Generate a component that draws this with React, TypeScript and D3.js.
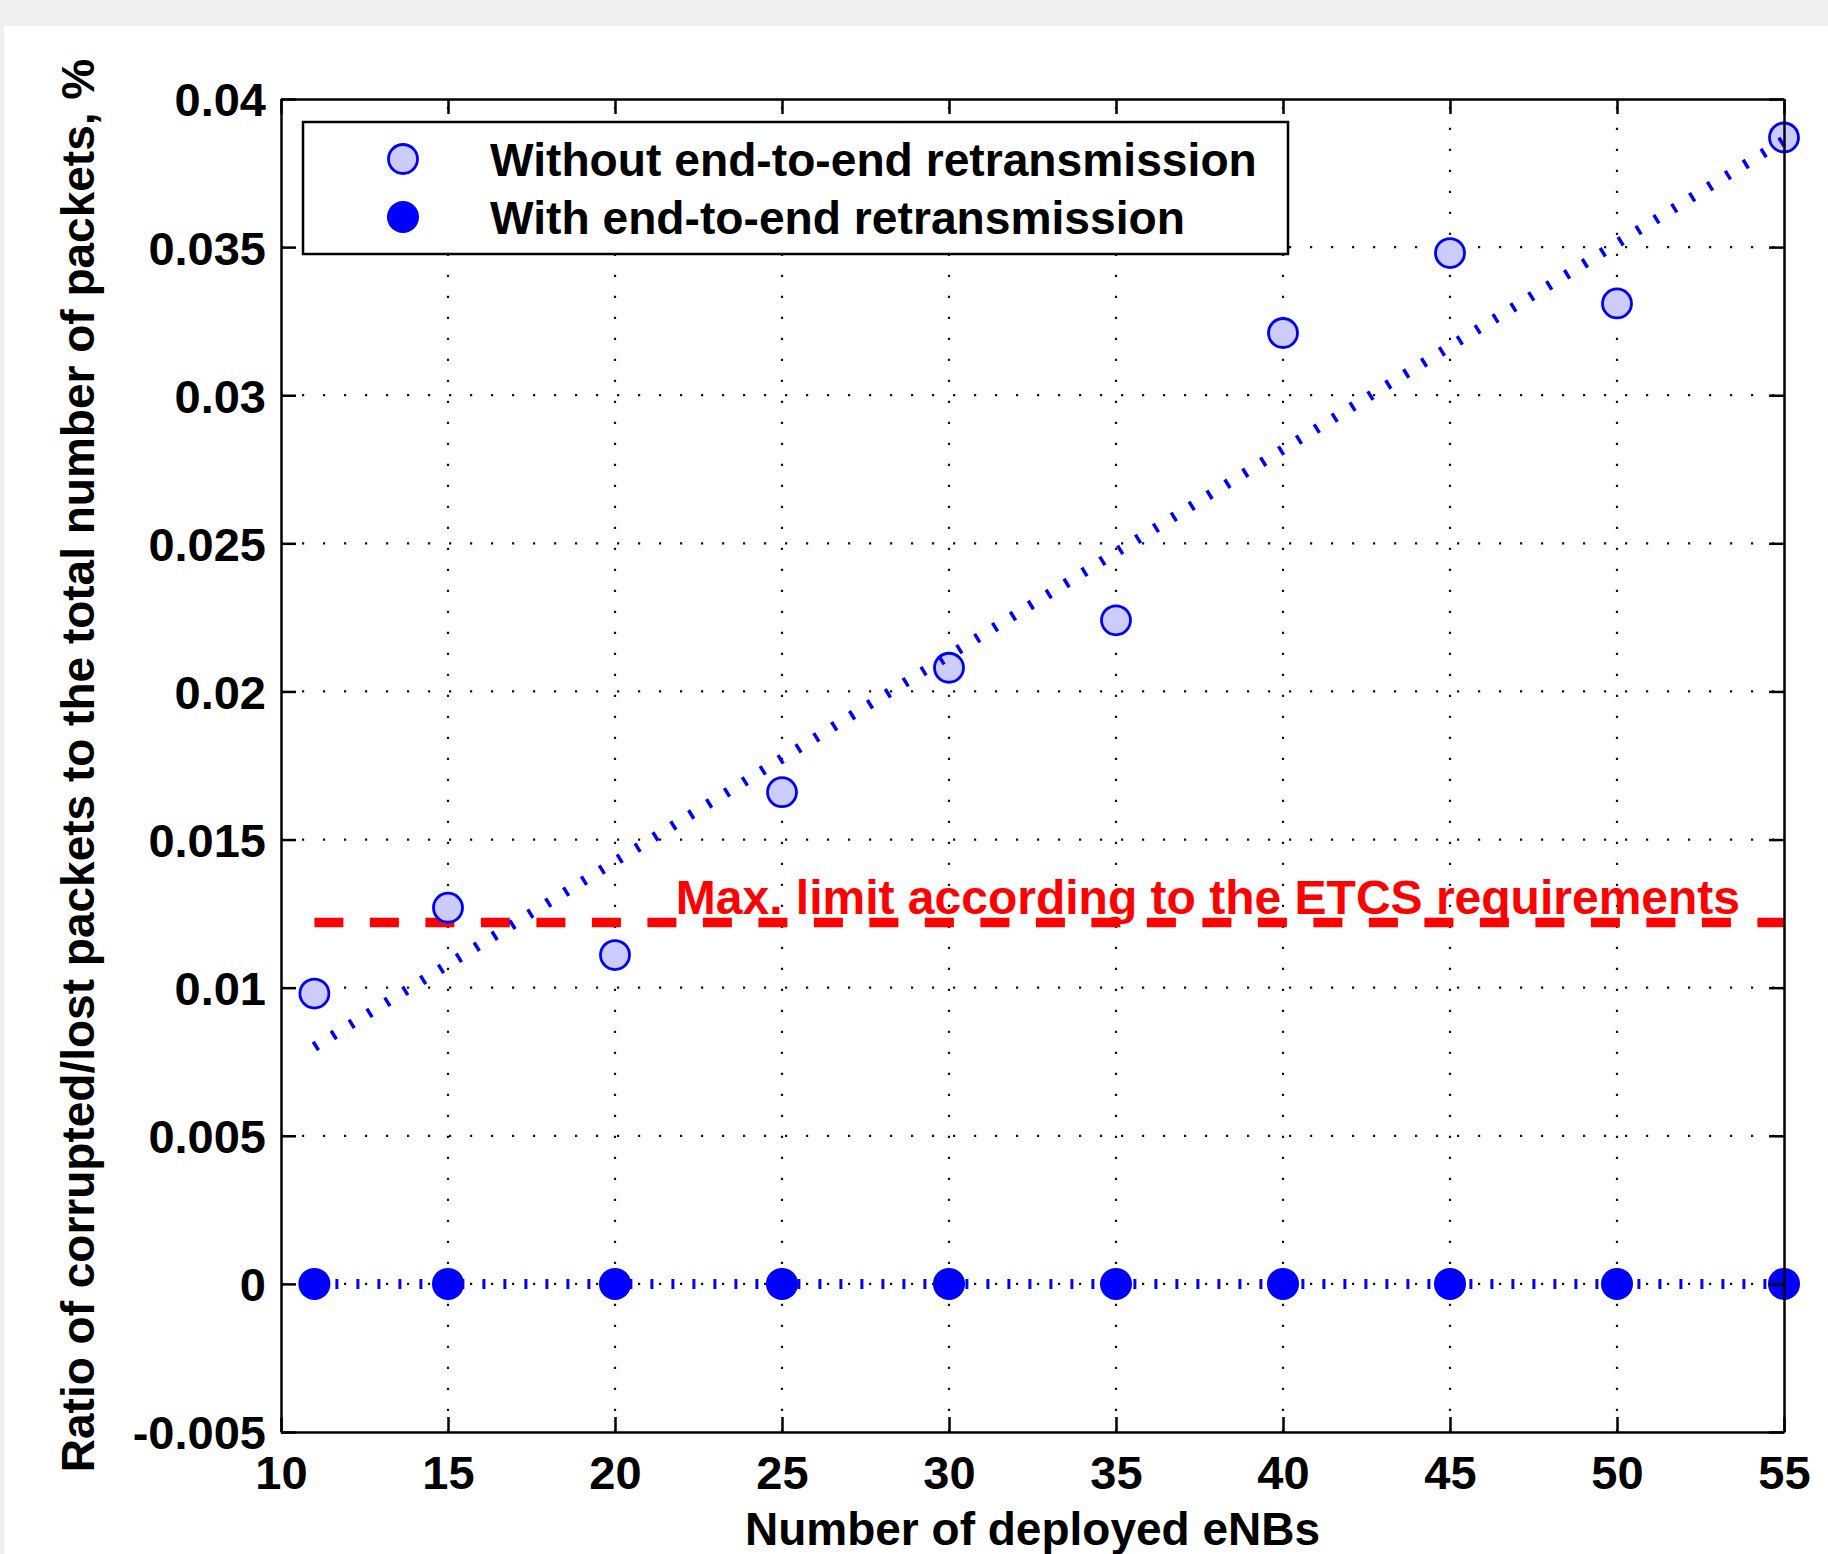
import { useRef, useEffect } from "react";
import * as d3 from "d3";

const ENB_COUNTS = [11, 15, 20, 25, 30, 35, 40, 45, 50, 55];
const RATIO_WITHOUT = [0.0098, 0.0127, 0.0111, 0.0166, 0.0208, 0.0224, 0.0321, 0.0348, 0.0331, 0.0387];
const RATIO_WITH = [0, 0, 0, 0, 0, 0, 0, 0, 0, 0];
// linear fit of the "without" series, as drawn in the figure
const TREND_X = [11, 55];
const TREND_Y = [0.008, 0.0386];
const ETCS_LIMIT = 0.0122;
const LIMIT_LABEL = "Max. limit according to the ETCS requirements";

const X_TICKS = [10, 15, 20, 25, 30, 35, 40, 45, 50, 55];
const Y_TICKS = [-0.005, 0, 0.005, 0.01, 0.015, 0.02, 0.025, 0.03, 0.035, 0.04];
const Y_TICK_LABELS = ["-0.005", "0", "0.005", "0.01", "0.015", "0.02", "0.025", "0.03", "0.035", "0.04"];
const SERIES_LABELS = ["Without end-to-end retransmission", "With end-to-end retransmission"];

const X_TITLE = "Number of deployed eNBs";
const Y_TITLE = "Ratio of corrupted/lost packets to the total number of packets, %";

const W = 1828;
const H = 1554;
const FONT = "'Liberation Sans', Arial, Helvetica, sans-serif";
const BLUE = "#0000ff";
const LIGHT = "#ccccff";
const RED = "#ff0000";

export default function App() {
  const svgRef = useRef<SVGSVGElement>(null);

  useEffect(() => {
    if (!svgRef.current) return;
    const svg = d3.select(svgRef.current);
    svg.selectAll("*").remove();

    const left = 281, right = 1784, top = 99, bottom = 1432;

    const x = d3.scaleLinear().domain([10, 55]).range([left, right]);
    const y = d3.scaleLinear().domain([-0.005, 0.04]).range([bottom, top]);

    // page background: grey band on top and left, white panel
    svg.append("rect").attr("width", W).attr("height", H).attr("fill", "#eff1f0");
    svg.append("rect").attr("x", 4).attr("y", 26).attr("width", W - 4).attr("height", H - 26).attr("fill", "#fff");

    // dotted grid
    const grid = svg.append("g")
      .attr("stroke", "#111")
      .attr("stroke-width", 2.2)
      .attr("stroke-dasharray", "2.2,18.8");
    grid.selectAll(".gx")
      .data(X_TICKS.slice(1, -1))
      .join("line")
      .attr("x1", (d) => x(d))
      .attr("x2", (d) => x(d))
      .attr("y1", bottom)
      .attr("y2", top);
    grid.selectAll(".gy")
      .data(Y_TICKS.slice(1, -1))
      .join("line")
      .attr("x1", left)
      .attr("x2", right)
      .attr("y1", (d) => y(d))
      .attr("y2", (d) => y(d));

    // ETCS limit
    svg.append("text")
      .attr("x", 1740)
      .attr("y", 914)
      .attr("text-anchor", "end")
      .attr("fill", RED)
      .style("font-family", FONT)
      .style("font-weight", "bold")
      .style("font-size", "48px")
      .text(LIMIT_LABEL);
    svg.append("line")
      .attr("x1", x(ENB_COUNTS[0]))
      .attr("x2", x(ENB_COUNTS[ENB_COUNTS.length - 1]))
      .attr("y1", y(ETCS_LIMIT))
      .attr("y2", y(ETCS_LIMIT))
      .attr("stroke", RED)
      .attr("stroke-width", 9.5)
      .attr("stroke-dasharray", "29,26.5");

    const line = d3.line<[number, number]>()
      .x((d) => x(d[0]))
      .y((d) => y(d[1]));

    // with retransmission: dotted line + filled markers
    svg.append("path")
      .attr("d", line(ENB_COUNTS.map((c, i) => [c, RATIO_WITH[i]]))!)
      .attr("fill", "none")
      .attr("stroke", BLUE)
      .attr("stroke-width", 10)
      .attr("stroke-dasharray", "3,18");
    svg.selectAll(".with")
      .data(ENB_COUNTS)
      .join("circle")
      .attr("cx", (d) => x(d))
      .attr("cy", (_, i) => y(RATIO_WITH[i]))
      .attr("r", 16)
      .attr("fill", BLUE);

    // without retransmission: markers + trend
    svg.selectAll(".without")
      .data(ENB_COUNTS)
      .join("circle")
      .attr("cx", (d) => x(d))
      .attr("cy", (_, i) => y(RATIO_WITHOUT[i]))
      .attr("r", 14.5)
      .attr("fill", LIGHT)
      .attr("stroke", BLUE)
      .attr("stroke-width", 2.8);
    svg.append("path")
      .attr("d", line(TREND_X.map((c, i) => [c, TREND_Y[i]]))!)
      .attr("fill", "none")
      .attr("stroke", BLUE)
      .attr("stroke-width", 10)
      .attr("stroke-dasharray", "3.5,17.5");

    // axes box with inward ticks
    const axisStyle = (g: d3.Selection<SVGGElement, unknown, null, undefined>) => {
      g.selectAll(".domain").attr("stroke", "#000").attr("stroke-width", 2.5);
      g.selectAll(".tick line").attr("stroke", "#000").attr("stroke-width", 2.5);
    };

    const xb = svg.append("g")
      .attr("transform", `translate(0,${bottom})`)
      .call(d3.axisBottom(x).tickValues(X_TICKS).tickSizeInner(-15).tickSizeOuter(0).tickFormat(d3.format("d")));
    axisStyle(xb);
    xb.selectAll(".tick text")
      .attr("y", 57)
      .attr("dy", 0)
      .attr("fill", "#000")
      .style("font-family", FONT)
      .style("font-weight", "bold")
      .style("font-size", "47px");

    const xt = svg.append("g")
      .attr("transform", `translate(0,${top})`)
      .call(d3.axisTop(x).tickValues(X_TICKS).tickSizeInner(-15).tickSizeOuter(0).tickFormat(() => ""));
    axisStyle(xt);

    const yl = svg.append("g")
      .attr("transform", `translate(${left},0)`)
      .call(d3.axisLeft(y).tickValues(Y_TICKS).tickSizeInner(-15).tickSizeOuter(0)
        .tickFormat((_, i) => Y_TICK_LABELS[i]));
    axisStyle(yl);
    yl.selectAll(".tick text")
      .attr("x", -15)
      .attr("dy", "0.36em")
      .attr("fill", "#000")
      .style("font-family", FONT)
      .style("font-weight", "bold")
      .style("font-size", "47px");

    const yr = svg.append("g")
      .attr("transform", `translate(${right},0)`)
      .call(d3.axisRight(y).tickValues(Y_TICKS).tickSizeInner(-15).tickSizeOuter(0).tickFormat(() => ""));
    axisStyle(yr);
    svg.selectAll(".domain").attr("fill", "none");

    // axis titles
    svg.append("text")
      .attr("x", (left + right) / 2)
      .attr("y", 1545)
      .attr("text-anchor", "middle")
      .style("font-family", FONT)
      .style("font-weight", "bold")
      .style("font-size", "46px")
      .text(X_TITLE);
    svg.append("text")
      .attr("transform", `translate(94,${(top + bottom) / 2}) rotate(-90)`)
      .attr("text-anchor", "middle")
      .style("font-family", FONT)
      .style("font-weight", "bold")
      .style("font-size", "46px")
      .text(Y_TITLE);

    // legend
    const lg = svg.append("g");
    lg.append("rect")
      .attr("x", 303)
      .attr("y", 122)
      .attr("width", 985)
      .attr("height", 132)
      .attr("fill", "#fff")
      .attr("stroke", "#000")
      .attr("stroke-width", 2.5);
    const rows = [159, 217];
    lg.append("circle")
      .attr("cx", 403).attr("cy", rows[0]).attr("r", 14.5)
      .attr("fill", LIGHT).attr("stroke", BLUE).attr("stroke-width", 2.8);
    lg.append("circle")
      .attr("cx", 403).attr("cy", rows[1]).attr("r", 16)
      .attr("fill", BLUE);
    lg.selectAll(".lt")
      .data(SERIES_LABELS)
      .join("text")
      .attr("x", 490)
      .attr("y", (_, i) => rows[i] + 17)
      .style("font-family", FONT)
      .style("font-weight", "bold")
      .style("font-size", "46.2px")
      .text((d) => d);
  }, []);

  return (
    <svg
      ref={svgRef}
      width={W}
      height={H}
      style={{ position: "absolute", left: 0, top: 0, display: "block" }}
    />
  );
}
